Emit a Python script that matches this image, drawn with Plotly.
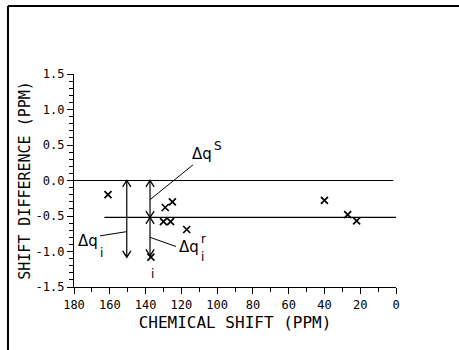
import plotly.graph_objects as go

# Observed points: chemical shift (ppm) vs shift difference (ppm)
shift_ppm = [161, 129, 125, 130, 126, 117, 137, 40, 27, 22]
shift_diff = [-0.20, -0.38, -0.30, -0.58, -0.58, -0.69, -1.08, -0.28, -0.48, -0.57]

# Reference levels
zero_level = 0.0
mean_level = -0.52

x_ticks = [180, 160, 140, 120, 100, 80, 60, 40, 20, 0]
y_ticks = [1.5, 1.0, 0.5, 0.0, -0.5, -1.0, -1.5]
y_tick_text = ["1.5", "1.0", "0.5", "0.0", "-0.5", "-1.0", "-1.5"]

FONT = "DejaVu Sans Mono"
LABEL_FONT = "DejaVu Sans"
ink = "black"

fig = go.Figure()

fig.add_trace(go.Scatter(
    x=shift_ppm, y=shift_diff, mode="markers",
    marker=dict(symbol="x-thin", size=7, line=dict(color=ink, width=1.7)),
    showlegend=False, hoverinfo="skip",
))

# horizontal reference lines
fig.add_shape(type="line", xref="x", yref="y", x0=180, x1=1.5,
              y0=zero_level, y1=zero_level, line=dict(color=ink, width=1.2))
fig.add_shape(type="line", xref="x", yref="y", x0=163, x1=0,
              y0=mean_level, y1=mean_level, line=dict(color=ink, width=1.2))

# double-headed vertical arrows with open chevron heads
HEAD_W = 2.3    # half width of a head, in ppm
HEAD_H = 0.09   # head length, in shift-difference units

def arrow(x, y_top, y_bot):
    fig.add_shape(type="line", xref="x", yref="y", x0=x, x1=x, y0=y_top, y1=y_bot,
                  line=dict(color=ink, width=1.2))
    for tip, d in ((y_top, -HEAD_H), (y_bot, HEAD_H)):
        fig.add_shape(type="path", xref="x", yref="y",
                      path=f"M {x - HEAD_W},{tip + d} L {x},{tip} L {x + HEAD_W},{tip + d}",
                      line=dict(color=ink, width=1.3))

arrow(150.5, zero_level, -1.08)
arrow(137.5, zero_level, mean_level)
arrow(137.5, mean_level, -1.06)

# leader lines to labels
for x0, y0, x1, y1 in [(137.5, -0.27, 113.5, 0.22),
                       (165.5, -0.78, 150.5, -0.72),
                       (137.5, -0.80, 123.0, -0.93)]:
    fig.add_shape(type="line", xref="x", yref="y", x0=x0, y0=y0, x1=x1, y1=y1,
                  line=dict(color=ink, width=1))

def label(x, y, txt, size=15, xanchor="center", yanchor="middle"):
    fig.add_annotation(x=x, y=y, xref="x", yref="y", text=txt, showarrow=False,
                       xanchor=xanchor, yanchor=yanchor, borderpad=0,
                       font=dict(family=LABEL_FONT, size=size, color=ink))

# Δq^S
label(102.3, 0.37, "Δq", xanchor="right")
label(102.3, 0.48, "S", 12, xanchor="left")
# Δq_i
label(166.0, -0.85, "Δq", xanchor="right")
label(166.0, -1.02, "i", 12, xanchor="left")
# Δq_i^r
label(109.6, -0.94, "Δq", xanchor="right")
label(109.6, -0.82, "r", 12, xanchor="left")
label(109.6, -1.08, "i", 12, xanchor="left")
# subscript of the marked point
label(136, -1.20, "i", 12, yanchor="top")

# outer frame (top and left edges)
fig.add_shape(type="line", xref="paper", yref="paper", x0=-0.205, x1=1.2,
              y0=1.319, y1=1.319, line=dict(color=ink, width=2))
fig.add_shape(type="line", xref="paper", yref="paper", x0=-0.205, x1=-0.205,
              y0=1.319, y1=-0.3, line=dict(color=ink, width=2))

fig.update_xaxes(
    range=[180, 0], tickvals=x_ticks, ticktext=[str(v) for v in x_ticks],
    ticks="outside", ticklen=6, tickwidth=1.2, tickcolor=ink,
    minor=dict(dtick=10, ticks="outside", ticklen=4, tickwidth=1.2, tickcolor=ink),
    showline=True, linecolor=ink, linewidth=1.2, showgrid=False, zeroline=False,
    tickfont=dict(family=FONT, size=12, color=ink),
    title=dict(text="CHEMICAL SHIFT (PPM)", font=dict(family=FONT, size=16, color=ink), standoff=6),
)
fig.update_yaxes(
    range=[-1.5, 1.5], tickvals=y_ticks, ticktext=y_tick_text,
    ticks="outside", ticklen=6, tickwidth=1.2, tickcolor=ink,
    minor=dict(dtick=0.1, ticks="outside", ticklen=4, tickwidth=1, tickcolor=ink),
    showline=True, linecolor=ink, linewidth=1.2, showgrid=False, zeroline=False,
    tickfont=dict(family=FONT, size=12, color=ink),
    title=dict(text="SHIFT DIFFERENCE (PPM)", font=dict(family=FONT, size=15, color=ink), standoff=1),
)

fig.update_layout(
    width=459, height=350,
    margin=dict(l=74, r=63, t=74, b=63),
    paper_bgcolor="white", plot_bgcolor="white",
    showlegend=False,
)

fig.write_html("out.html")
